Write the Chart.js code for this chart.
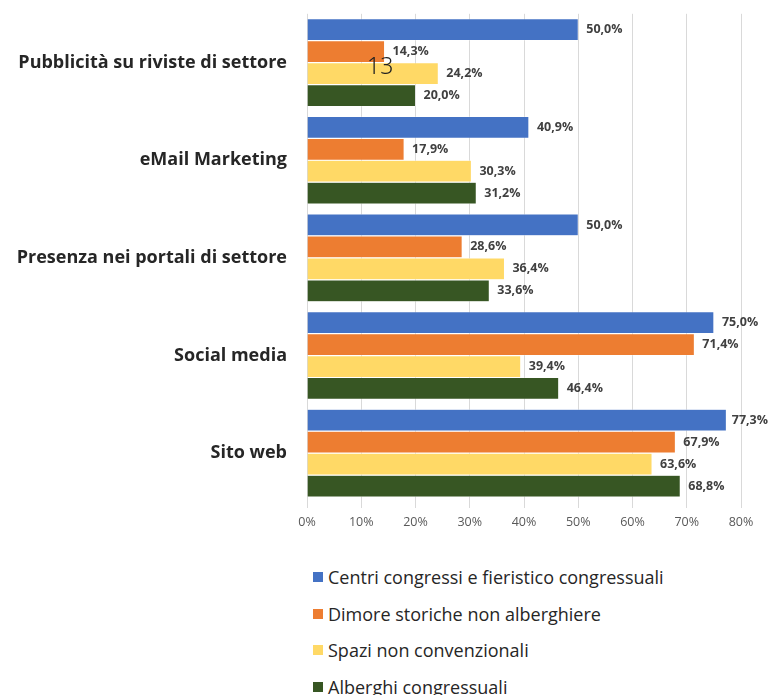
<!DOCTYPE html>
<html>
<head>
<meta charset="utf-8">
<script src="https://cdn.jsdelivr.net/npm/chart.js@4"></script>
<style>
  body { margin: 0; background: #fff; width: 769px; height: 695px; overflow: hidden; position: relative; font-family: "Open Sans", sans-serif; }
  #wrap { position: absolute; left: 0; top: -17px; width: 769px; height: 554px; }
  #legend { position: absolute; left: 313px; top: 559px; }
  .item { height: 36.5px; display: flex; align-items: center; font-size: 18px; color: #262626; }
  .box { width: 10px; height: 10px; margin-right: 5px; }
  #pageNum { position: absolute; left: 367px; top: 49px; font-size: 23px; font-weight: 300; color: #222; font-family: "Noto Sans", sans-serif; }
</style>
</head>
<body>
<div id="wrap"><canvas id="barChart"></canvas></div>
<div id="legend"></div>
<div id="pageNum">13</div>
<script>
// Categories and series
var categories = ['Pubblicità su riviste di settore', 'eMail Marketing', 'Presenza nei portali di settore', 'Social media', 'Sito web'];
var seriesNames = ['Centri congressi e fieristico congressuali', 'Dimore storiche non alberghiere', 'Spazi non convenzionali', 'Alberghi congressuali'];
var centri = [50.0, 40.9, 50.0, 75.0, 77.3];
var dimore = [14.3, 17.9, 28.6, 71.4, 67.9];
var spazi = [24.2, 30.3, 36.4, 39.4, 63.6];
var alberghi = [20.0, 31.2, 33.6, 46.4, 68.8];
var xTicks = [0, 10, 20, 30, 40, 50, 60, 70, 80];
var colors = ['#4472C4', '#ED7D31', '#FFD966', '#375623'];

var seriesData = [centri, dimore, spazi, alberghi];

// draw the value at the end of each bar
var valueLabels = {
    id: 'valueLabels',
    afterDatasetsDraw: function(chart) {
        var ctx = chart.ctx;
        ctx.save();
        ctx.font = 'bold 12.5px "Open Sans", sans-serif';
        ctx.fillStyle = '#404040';
        ctx.textBaseline = 'middle';
        ctx.textAlign = 'left';
        chart.data.datasets.forEach(function(ds, i) {
            var meta = chart.getDatasetMeta(i);
            meta.data.forEach(function(bar, j) {
                var txt = ds.data[j].toFixed(1).replace('.', ',') + '%';
                // keep the label inside the canvas near the right edge
                var x = Math.min(bar.x + 8, chart.width - ctx.measureText(txt).width - 1);
                ctx.fillText(txt, x, bar.y);
            });
        });
        ctx.restore();
    }
};

var ctx = document.getElementById('barChart').getContext('2d');
var chart1 = new Chart(ctx, {
    type: 'bar',
    data: {
        labels: categories,
        datasets: seriesData.map(function(d, i) {
            return {
                label: seriesNames[i],
                data: d,
                backgroundColor: colors[i],
                borderColor: '#ffffff',
                borderWidth: 0.5,
                barPercentage: 0.99,
                categoryPercentage: 0.9
            };
        })
    },
    options: {
        indexAxis: 'y',
        responsive: true,
        maintainAspectRatio: false,
        animation: false,
        layout: { padding: { top: 0, right: 28, left: 0, bottom: 0 } },
        plugins: {
            legend: { display: false },
            tooltip: { enabled: false }
        },
        scales: {
            x: {
                min: 0,
                max: 80,
                afterBuildTicks: function(scale) {
                    scale.ticks = xTicks.map(function(v) { return { value: v }; });
                },
                ticks: {
                    callback: function(v) { return v + '%'; },
                    color: '#595959',
                    font: { size: 12.5, family: '"Open Sans", sans-serif' },
                    padding: 7
                },
                grid: { color: '#d9d9d9', lineWidth: 1, tickLength: 6 },
                border: { display: false }
            },
            y: {
                afterFit: function(scale) { scale.width = 307; },
                ticks: {
                    color: '#262626',
                    font: { size: 18, weight: 'bold', family: '"Open Sans", sans-serif' },
                    padding: 20
                },
                grid: { display: false, drawTicks: false },
                border: { display: false }
            }
        }
    },
    plugins: [valueLabels]
});

// vertical legend below the chart
var legendHtml = '';
chart1.data.datasets.forEach(function(ds) {
    legendHtml += '<div class="item"><span class="box" style="background:' + ds.backgroundColor + '"></span>' + ds.label + '</div>';
});
document.getElementById('legend').innerHTML = legendHtml;
</script>
</body>
</html>
